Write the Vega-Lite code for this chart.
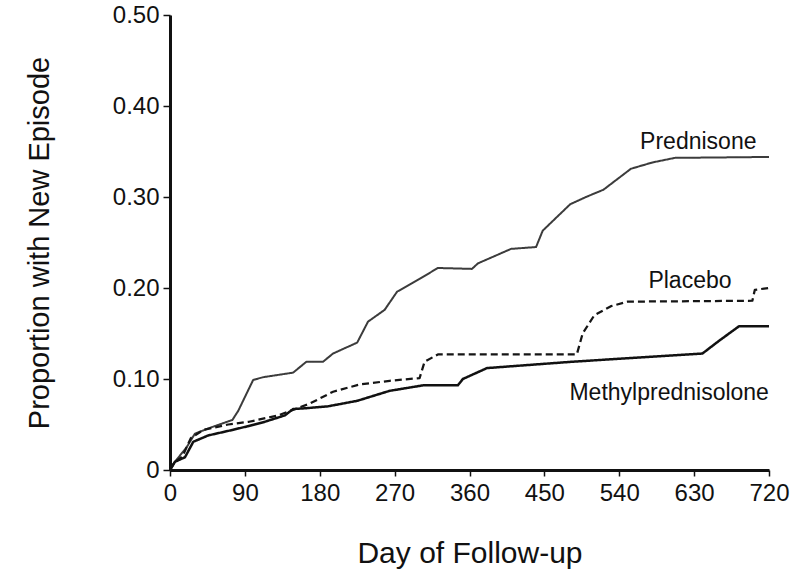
{
  "$schema": "https://vega.github.io/schema/vega-lite/v6.json",
  "width": 599,
  "height": 455,
  "autosize": {"type": "none"},
  "padding": {"left": 170, "top": 15, "right": 33, "bottom": 107},
  "background": "white",
  "config": {"view": {"stroke": null}, "font": "Liberation Sans"},
  "datasets": {
    "curves": [
      {"group": "Prednisone", "day": 0, "p": 0},
      {"group": "Prednisone", "day": 5, "p": 0.008},
      {"group": "Prednisone", "day": 20, "p": 0.025},
      {"group": "Prednisone", "day": 30, "p": 0.04},
      {"group": "Prednisone", "day": 50, "p": 0.047},
      {"group": "Prednisone", "day": 75, "p": 0.055},
      {"group": "Prednisone", "day": 82, "p": 0.065},
      {"group": "Prednisone", "day": 100, "p": 0.099},
      {"group": "Prednisone", "day": 112, "p": 0.102},
      {"group": "Prednisone", "day": 148, "p": 0.107},
      {"group": "Prednisone", "day": 164, "p": 0.119},
      {"group": "Prednisone", "day": 184, "p": 0.119},
      {"group": "Prednisone", "day": 196, "p": 0.128},
      {"group": "Prednisone", "day": 225, "p": 0.14},
      {"group": "Prednisone", "day": 238, "p": 0.163},
      {"group": "Prednisone", "day": 258, "p": 0.176},
      {"group": "Prednisone", "day": 273, "p": 0.196},
      {"group": "Prednisone", "day": 300, "p": 0.21},
      {"group": "Prednisone", "day": 322, "p": 0.222},
      {"group": "Prednisone", "day": 363, "p": 0.221},
      {"group": "Prednisone", "day": 370, "p": 0.227},
      {"group": "Prednisone", "day": 410, "p": 0.243},
      {"group": "Prednisone", "day": 440, "p": 0.245},
      {"group": "Prednisone", "day": 448, "p": 0.263},
      {"group": "Prednisone", "day": 481, "p": 0.292},
      {"group": "Prednisone", "day": 500, "p": 0.3},
      {"group": "Prednisone", "day": 521, "p": 0.308},
      {"group": "Prednisone", "day": 554, "p": 0.331},
      {"group": "Prednisone", "day": 580, "p": 0.338},
      {"group": "Prednisone", "day": 607, "p": 0.343},
      {"group": "Prednisone", "day": 720, "p": 0.344},
      {"group": "Placebo", "day": 0, "p": 0},
      {"group": "Placebo", "day": 5, "p": 0.008},
      {"group": "Placebo", "day": 15, "p": 0.015},
      {"group": "Placebo", "day": 25, "p": 0.035},
      {"group": "Placebo", "day": 40, "p": 0.044},
      {"group": "Placebo", "day": 70, "p": 0.05},
      {"group": "Placebo", "day": 95, "p": 0.053},
      {"group": "Placebo", "day": 130, "p": 0.06},
      {"group": "Placebo", "day": 168, "p": 0.073},
      {"group": "Placebo", "day": 196, "p": 0.086},
      {"group": "Placebo", "day": 228, "p": 0.094},
      {"group": "Placebo", "day": 264, "p": 0.098},
      {"group": "Placebo", "day": 300, "p": 0.101},
      {"group": "Placebo", "day": 306, "p": 0.119},
      {"group": "Placebo", "day": 322, "p": 0.127},
      {"group": "Placebo", "day": 489, "p": 0.127},
      {"group": "Placebo", "day": 496, "p": 0.15},
      {"group": "Placebo", "day": 510, "p": 0.17},
      {"group": "Placebo", "day": 530, "p": 0.18},
      {"group": "Placebo", "day": 550, "p": 0.185},
      {"group": "Placebo", "day": 700, "p": 0.186},
      {"group": "Placebo", "day": 703, "p": 0.198},
      {"group": "Placebo", "day": 720, "p": 0.2},
      {"group": "Methylprednisolone", "day": 0, "p": 0},
      {"group": "Methylprednisolone", "day": 6, "p": 0.009},
      {"group": "Methylprednisolone", "day": 18, "p": 0.014},
      {"group": "Methylprednisolone", "day": 28, "p": 0.031},
      {"group": "Methylprednisolone", "day": 46, "p": 0.038},
      {"group": "Methylprednisolone", "day": 75, "p": 0.044},
      {"group": "Methylprednisolone", "day": 93, "p": 0.048},
      {"group": "Methylprednisolone", "day": 114, "p": 0.053},
      {"group": "Methylprednisolone", "day": 138, "p": 0.06},
      {"group": "Methylprednisolone", "day": 148, "p": 0.067},
      {"group": "Methylprednisolone", "day": 165, "p": 0.068},
      {"group": "Methylprednisolone", "day": 190, "p": 0.07},
      {"group": "Methylprednisolone", "day": 225, "p": 0.076},
      {"group": "Methylprednisolone", "day": 264, "p": 0.087},
      {"group": "Methylprednisolone", "day": 304, "p": 0.093},
      {"group": "Methylprednisolone", "day": 346, "p": 0.093},
      {"group": "Methylprednisolone", "day": 352, "p": 0.1},
      {"group": "Methylprednisolone", "day": 381, "p": 0.112},
      {"group": "Methylprednisolone", "day": 484, "p": 0.119},
      {"group": "Methylprednisolone", "day": 640, "p": 0.128},
      {"group": "Methylprednisolone", "day": 660, "p": 0.142},
      {"group": "Methylprednisolone", "day": 684, "p": 0.158},
      {"group": "Methylprednisolone", "day": 720, "p": 0.158}
    ],
    "labels": [
      {"label": "Prednisone", "day": 635, "p": 0.36},
      {"label": "Placebo", "day": 625, "p": 0.208},
      {"label": "Methylprednisolone", "day": 600, "p": 0.085}
    ]
  },
  "layer": [
    {
      "data": {"name": "curves"},
      "mark": {"type": "line", "interpolate": "linear", "strokeJoin": "round"},
      "encoding": {
        "x": {
          "field": "day", "type": "quantitative",
          "scale": {"domain": [0, 720], "nice": false, "zero": false},
          "axis": {
            "values": [0, 90, 180, 270, 360, 450, 540, 630, 720],
            "title": "Day of Follow-up",
            "titleFontSize": 30, "titleFontWeight": "normal", "titleColor": "#111",
            "titlePadding": 33,
            "labelFontSize": 24, "labelColor": "#111", "labelPadding": 5,
            "labelFlush": false, "labelOverlap": false,
            "domainColor": "#111", "domainWidth": 3,
            "tickColor": "#111", "tickSize": 6, "tickWidth": 1.5,
            "grid": false
          }
        },
        "y": {
          "field": "p", "type": "quantitative",
          "scale": {"domain": [0, 0.5], "nice": false},
          "axis": {
            "values": [0, 0.1, 0.2, 0.3, 0.4, 0.5],
            "labelExpr": "datum.value == 0 ? '0' : format(datum.value, '.2f')",
            "title": "Proportion with New Episode",
            "titleFontSize": 29, "titleFontWeight": "normal", "titleColor": "#111",
            "titlePadding": 58,
            "labelFontSize": 24, "labelColor": "#111", "labelPadding": 4,
            "labelFlush": false, "labelOverlap": false,
            "domainColor": "#111", "domainWidth": 3,
            "tickColor": "#111", "tickSize": 7, "tickWidth": 1.5,
            "grid": false
          }
        },
        "detail": {"field": "group"},
        "color": {
          "field": "group", "type": "nominal", "legend": null,
          "scale": {"domain": ["Prednisone", "Placebo", "Methylprednisolone"], "range": ["#3c3c3c", "#151515", "#111111"]}
        },
        "strokeDash": {
          "field": "group", "type": "nominal", "legend": null,
          "scale": {"domain": ["Prednisone", "Placebo", "Methylprednisolone"], "range": [[1, 0], [7, 4], [1, 0]]}
        },
        "strokeWidth": {
          "field": "group", "type": "nominal", "legend": null,
          "scale": {"domain": ["Prednisone", "Placebo", "Methylprednisolone"], "range": [2, 2.5, 3.5]}
        }
      }
    },
    {
      "data": {"name": "labels"},
      "mark": {"type": "text", "fontSize": 23, "color": "#111", "align": "center", "baseline": "middle"},
      "encoding": {
        "x": {"field": "day", "type": "quantitative"},
        "y": {"field": "p", "type": "quantitative"},
        "text": {"field": "label"}
      }
    }
  ]
}
